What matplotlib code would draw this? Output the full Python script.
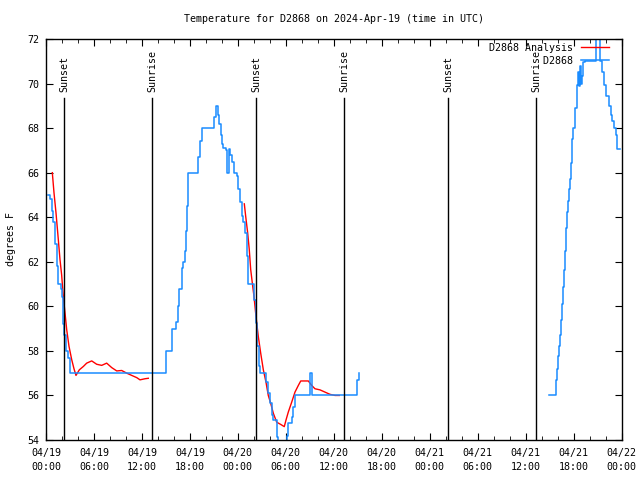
import numpy as np
import matplotlib
matplotlib.use("Agg")
import matplotlib.pyplot as plt
from matplotlib.lines import Line2D

# hours since 04/19 00:00 UTC
obs1_t = [0.29, 0.50, 0.71, 0.91, 1.13, 1.34, 1.54, 1.84, 1.96, 2.16, 2.25, 2.50, 2.79, 3.00,
          15.00, 15.73, 16.26, 16.55, 16.68, 16.98, 17.10, 17.35, 17.48, 17.60, 17.80, 19.05,
          19.27, 19.48, 21.06, 21.21, 21.56, 21.68, 21.86, 22.02, 22.18, 22.52, 22.68, 22.86,
          23.02, 23.23, 23.52, 23.86, 24.06, 24.27, 24.48, 24.68, 24.90, 25.11, 25.31, 26.02,
          26.24, 26.44, 26.65, 26.77, 27.52, 27.81, 28.02, 28.24, 28.44, 28.86, 28.99, 30.11,
          30.31, 30.74, 30.94, 31.15, 32.97, 33.22, 38.97, 39.16, 39.20]
obs1_v = [65.0, 64.8, 64.3, 63.8, 62.8, 61.8, 61.0, 60.8, 60.4, 59.2, 58.7, 58.0, 57.7, 57.0,
          58.0, 59.0, 59.3, 60.0, 60.8, 61.7, 62.0, 62.5, 63.4, 64.5, 66.0, 66.7,
          67.4, 68.0, 68.5, 69.0, 68.6, 68.2, 67.7, 67.3, 67.1, 67.0, 66.0, 67.05,
          66.8, 66.5, 66.0, 65.85, 65.25, 64.7, 64.05, 63.8, 63.3, 62.25, 61.0, 60.3,
          59.25, 58.2, 57.3, 57.0, 56.6, 56.1, 55.65, 55.1, 54.9, 54.15, 53.5, 54.2,
          54.75, 55.05, 55.5, 56.0, 57.0, 56.0, 56.7, 57.0, 57.0]

obs2_t = [62.97, 63.83, 63.96, 64.08, 64.21, 64.33, 64.46, 64.58, 64.71, 64.83, 64.96, 65.08,
          65.21, 65.33, 65.46, 65.58, 65.68, 65.85, 65.97, 66.18, 66.40, 66.60, 66.71, 66.81,
          66.93, 67.02, 67.22, 67.43, 68.81, 69.31, 69.56, 69.81, 70.12, 70.38, 70.63, 70.81,
          71.06, 71.25, 71.48, 71.81]
obs2_v = [56.0, 56.7, 57.2, 57.75, 58.2, 58.7, 59.4, 60.1, 60.85, 61.65, 62.5, 63.5,
          64.25, 64.75, 65.25, 65.7, 66.45, 67.5, 68.0, 68.9, 69.95, 70.5, 69.9, 70.8,
          70.0, 70.35, 70.95, 71.0, 72.5, 71.0, 70.5, 69.95, 69.45, 69.0, 68.6, 68.3,
          68.0, 67.7, 67.05, 67.05]

ana1_t = [0.79, 1.00, 1.25, 1.54, 1.75, 1.96, 2.16, 2.38, 2.59, 2.88, 3.22, 3.50, 3.75, 4.17,
          4.67, 5.09, 5.72, 6.34, 6.97, 7.59, 8.22, 8.85, 9.47, 10.10, 10.72, 11.35, 11.76,
          12.39, 12.80]
ana1_v = [66.0, 65.1, 64.2, 63.0, 62.1, 61.4, 60.45, 59.7, 58.95, 58.2, 57.6, 57.2, 56.9, 57.15,
          57.3, 57.45, 57.55, 57.4, 57.35, 57.45, 57.25, 57.1, 57.12, 57.0, 56.9, 56.8, 56.7,
          56.75, 56.77]

ana2_t = [24.81, 24.98, 25.23, 25.43, 25.61, 25.86, 26.02, 26.27, 26.56, 26.86, 27.19, 27.52,
          27.81, 28.11, 28.44, 28.86, 29.36, 29.81, 30.03, 30.31, 30.74, 31.15, 31.57, 31.87,
          32.82, 33.24, 33.65, 34.28, 34.90, 35.53, 36.16, 36.69]
ana2_v = [64.6, 64.05, 63.3, 62.55, 61.65, 60.9, 60.45, 59.55, 58.65, 57.9, 57.15, 56.6,
          56.0, 55.65, 55.2, 54.8, 54.7, 54.6, 54.9, 55.25, 55.7, 56.15, 56.45, 56.65,
          56.65, 56.45, 56.3, 56.25, 56.15, 56.05, 56.0, 56.0]

sun_t = [2.25, 13.26, 26.27, 37.28, 50.29, 61.30]
sun_lbl = ["Sunset", "Sunrise", "Sunset", "Sunrise", "Sunset", "Sunrise"]

tick_labels = ["04/19\n00:00", "04/19\n06:00", "04/19\n12:00", "04/19\n18:00",
               "04/20\n00:00", "04/20\n06:00", "04/20\n12:00", "04/20\n18:00",
               "04/21\n00:00", "04/21\n06:00", "04/21\n12:00", "04/21\n18:00",
               "04/22\n00:00"]

plt.rcParams['font.family'] = ['DejaVu Sans Mono']
plt.rcParams['font.size'] = 7.2

blue = '#1a8cff'
red = '#ff0000'

fig = plt.figure(figsize=(6.4, 4.8), dpi=100)
ax = fig.add_axes([46 / 640, 1 - 440 / 480, 575.5 / 640, 401 / 480])

ax.plot(ana1_t, ana1_v, color=red, lw=1)
ax.plot(ana2_t, ana2_v, color=red, lw=1)
ax.plot(obs1_t, obs1_v, color=blue, lw=1.1, drawstyle='steps-post')
ax.plot(obs2_t, obs2_v, color=blue, lw=1.1, drawstyle='steps-post')

for t, s in zip(sun_t, sun_lbl):
    ax.axvline(t, ymin=0, ymax=(69.35 - 54) / 18, color='black', lw=1)
    ax.text(t, 69.6, s, rotation=90, ha='center', va='bottom')

ax.set_xlim(0, 72)
ax.set_ylim(54, 72)
ax.set_xticks(np.arange(len(tick_labels)) * 6)
ax.set_xticklabels(tick_labels, linespacing=1.4)
ax.set_xticks(np.arange(0, 73, 2), minor=True)
ax.set_yticks(np.arange(54, 73, 2))
ax.tick_params(which='both', direction='in', top=True, right=True, color='black')
ax.tick_params(axis='x', which='major', length=5, pad=6)
ax.tick_params(axis='x', which='minor', length=3)
ax.tick_params(axis='y', which='major', length=5, pad=5)
for sp in ax.spines.values():
    sp.set_linewidth(1)

ax.set_ylabel("degrees F")
ax.yaxis.set_label_coords(-0.052, 0.5)
ax.set_title("Temperature for D2868 on 2024-Apr-19 (time in UTC)", fontsize=7.2, pad=12)

handles = [Line2D([], [], color=red, lw=1), Line2D([], [], color=blue, lw=1.1)]
ax.legend(handles, ["D2868 Analysis", "         D2868"], loc='upper right',
          bbox_to_anchor=(1 - 12.5 / 575.5, 1 - 4 / 401), frameon=False,
          markerfirst=False, borderpad=0, borderaxespad=0, handlelength=2.8,
          handletextpad=0.8, labelspacing=0.3)

fig.savefig("out.png", dpi=100)
